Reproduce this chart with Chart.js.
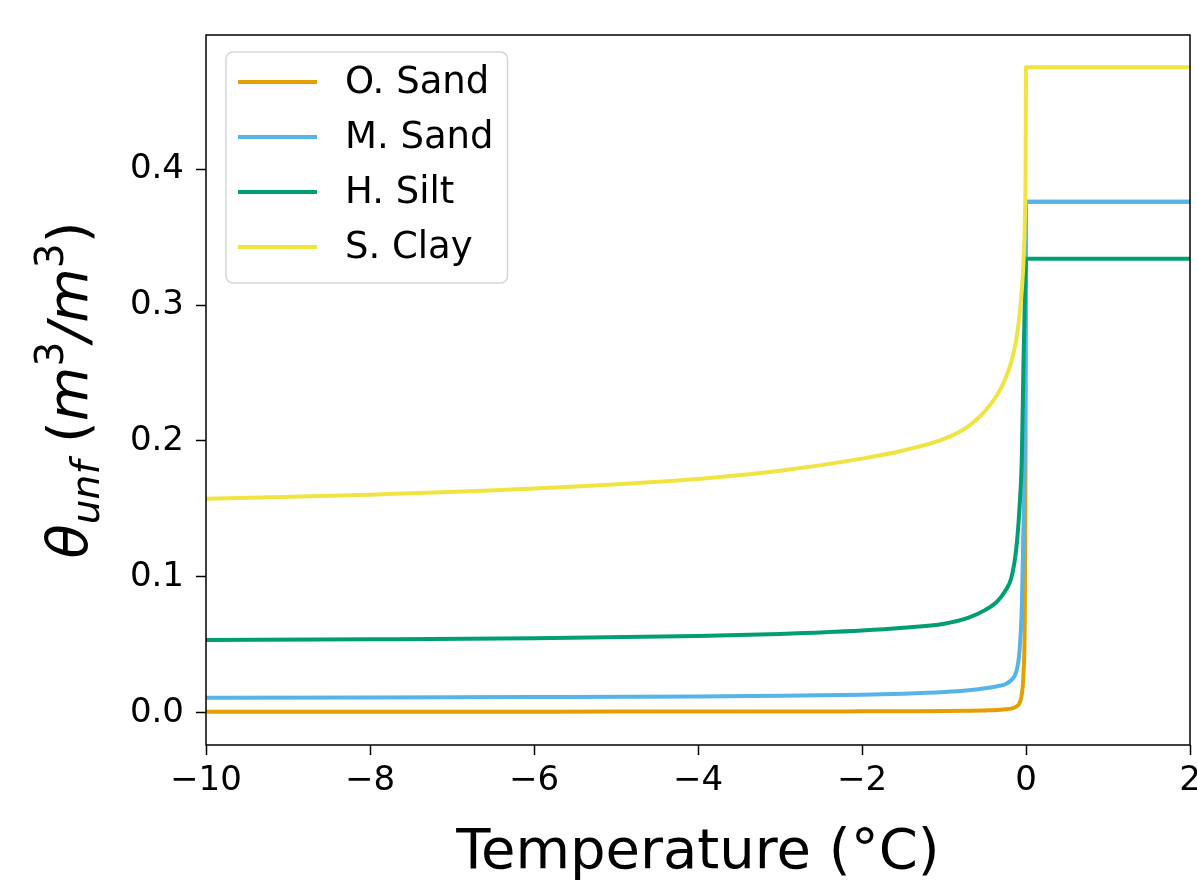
<!DOCTYPE html>
<html>
<head>
<meta charset="utf-8">
<script src="https://cdn.jsdelivr.net/npm/chart.js@4.4.1/dist/chart.umd.min.js"></script>
<style>
  body { margin: 0; background: #fff; }
</style>
</head>
<body>
<canvas id="chart" width="1197" height="892"></canvas>
<script>
// --- DATA ---
const temps = [-10, -8, -6, -4, -3, -2, -1.5, -1, -0.7, -0.5, -0.35, -0.25, -0.18, -0.12, -0.08, -0.05, -0.03, -0.015, -0.005, 0, 2];

const oSand = [0.0008, 0.0008, 0.0008, 0.0009, 0.0009, 0.001, 0.0011, 0.0012, 0.0014, 0.0017, 0.002, 0.0025, 0.003, 0.0045, 0.007, 0.014, 0.03, 0.07, 0.2, 0.376, 0.376];
const mSand = [0.011, 0.0112, 0.0115, 0.012, 0.0125, 0.0133, 0.014, 0.0152, 0.0165, 0.018, 0.0195, 0.021, 0.024, 0.03, 0.045, 0.08, 0.14, 0.19, 0.28, 0.376, 0.376];
const hSilt = [0.0535, 0.054, 0.0548, 0.0565, 0.058, 0.0605, 0.0625, 0.0655, 0.07, 0.0755, 0.082, 0.09, 0.099, 0.12, 0.15, 0.19, 0.26, 0.3, 0.325, 0.334, 0.334];
const sClay = [0.1575, 0.1605, 0.165, 0.172, 0.178, 0.187, 0.193, 0.2015, 0.211, 0.222, 0.234, 0.246, 0.258, 0.274, 0.292, 0.312, 0.333, 0.36, 0.40, 0.475, 0.475];

const seriesLabels = ['O. Sand', 'M. Sand', 'H. Silt', 'S. Clay'];
const seriesValues = [oSand, mSand, hSilt, sClay];
const seriesColors = ['#E69F00', '#56B4E9', '#009E73', '#F0E442'];

const xTickValues = [-10, -8, -6, -4, -2, 0, 2];
const yTickValues = [0, 0.1, 0.2, 0.3, 0.4];

const FONT = 'DejaVu Sans';

// --- PLUGINS ---

// cadre noir autour de la zone de tracé
const framePlugin = {
    id: 'frame',
    afterDraw(chart) {
        const { ctx, chartArea: a } = chart;
        ctx.save();
        ctx.strokeStyle = '#000';
        ctx.lineWidth = 1.5;
        ctx.strokeRect(a.left, a.top, a.right - a.left, a.bottom - a.top);
        ctx.restore();
    }
};

// légende encadrée dans le coin haut gauche
const insetLegend = {
    id: 'insetLegend',
    afterDraw(chart) {
        const { ctx, chartArea: a } = chart;
        const sets = chart.data.datasets;
        ctx.save();
        ctx.font = `37px "${FONT}"`;
        const maxW = Math.max(...sets.map(d => ctx.measureText(d.label).width));
        const x = a.left + 20, y = a.top + 17;
        const w = 119 + maxW + 14, h = 231, r = 7;
        ctx.beginPath();
        ctx.roundRect(x, y, w, h, r);
        ctx.fillStyle = 'rgba(255,255,255,0.8)';
        ctx.fill();
        ctx.strokeStyle = '#d6d6d6';
        ctx.lineWidth = 1.5;
        ctx.stroke();
        sets.forEach((d, i) => {
            const cy = y + 30 + i * 55;
            ctx.beginPath();
            ctx.moveTo(x + 12, cy);
            ctx.lineTo(x + 91, cy);
            ctx.strokeStyle = d.borderColor;
            ctx.lineWidth = 4;
            ctx.stroke();
            ctx.fillStyle = '#000';
            ctx.textBaseline = 'middle';
            ctx.textAlign = 'left';
            ctx.fillText(d.label, x + 119, cy + 1);
        });
        ctx.restore();
    }
};

// titre de l'axe Y avec indices / exposants
const yTitlePlugin = {
    id: 'yTitle',
    afterDraw(chart) {
        const { ctx } = chart;
        const size = 56;
        const parts = [
            { t: 'θ', f: `italic ${size}px "${FONT}"`, dy: 0 },
            { t: 'unf', f: `italic ${size * 0.7}px "${FONT}"`, dy: size * 0.22 },
            { t: ' (', f: `${size}px "${FONT}"`, dy: 0 },
            { t: 'm', f: `italic ${size}px "${FONT}"`, dy: 0 },
            { t: '3', f: `${size * 0.7}px "${FONT}"`, dy: -size * 0.42 },
            { t: '/', f: `italic ${size}px "${FONT}"`, dy: 0 },
            { t: 'm', f: `italic ${size}px "${FONT}"`, dy: 0 },
            { t: '3', f: `${size * 0.7}px "${FONT}"`, dy: -size * 0.42 },
            { t: ')', f: `${size}px "${FONT}"`, dy: 0 }
        ];
        ctx.save();
        let total = 0;
        parts.forEach(p => { ctx.font = p.f; p.w = ctx.measureText(p.t).width; total += p.w; });
        ctx.translate(87, 390);
        ctx.rotate(-Math.PI / 2);
        ctx.fillStyle = '#000';
        ctx.textBaseline = 'alphabetic';
        ctx.textAlign = 'left';
        let cx = -total / 2;
        parts.forEach(p => {
            ctx.font = p.f;
            ctx.fillText(p.t, cx, p.dy);
            cx += p.w;
        });
        ctx.restore();
    }
};

// --- CHART ---
const datasets = seriesLabels.map((label, i) => ({
    label: label,
    data: temps.map((t, j) => ({ x: t, y: seriesValues[i][j] })),
    borderColor: seriesColors[i],
    backgroundColor: seriesColors[i],
    borderWidth: 4,
    pointRadius: 0,
    cubicInterpolationMode: 'monotone',
    fill: false,
    order: seriesLabels.length - 1 - i
}));

const minusFmt = v => (v < 0 ? '\u2212' + Math.abs(v) : String(v));

new Chart(document.getElementById('chart'), {
    type: 'line',
    data: { datasets },
    options: {
        responsive: false,
        animation: false,
        layout: { padding: { top: 35, right: 7, left: 0, bottom: 0 } },
        plugins: {
            legend: { display: false },
            tooltip: { enabled: false }
        },
        scales: {
            x: {
                type: 'linear',
                min: -10,
                max: 2,
                afterBuildTicks: axis => { axis.ticks = xTickValues.map(v => ({ value: v })); },
                afterFit: axis => {
                    axis.height = 147;
                    axis.paddingLeft = 0;
                    axis.paddingRight = 0;
                },
                border: { display: false },
                grid: { drawOnChartArea: false, drawTicks: true, tickLength: 10, tickWidth: 1.5, color: '#000' },
                ticks: {
                    color: '#000',
                    padding: 6,
                    maxRotation: 0,
                    font: { family: FONT, size: 34 },
                    callback: v => minusFmt(v)
                },
                title: {
                    display: true,
                    text: 'Temperature (°C)',
                    color: '#000',
                    font: { family: FONT, size: 56 },
                    padding: { top: 0, bottom: 5 }
                }
            },
            y: {
                type: 'linear',
                min: -0.02375,
                max: 0.49875,
                afterBuildTicks: axis => { axis.ticks = yTickValues.map(v => ({ value: v })); },
                afterFit: axis => { axis.width = 206; },
                border: { display: false },
                grid: { drawOnChartArea: false, drawTicks: true, tickLength: 10, tickWidth: 1.5, color: '#000' },
                ticks: {
                    color: '#000',
                    padding: 12,
                    font: { family: FONT, size: 34 },
                    callback: v => v.toFixed(1)
                }
            }
        }
    },
    plugins: [framePlugin, insetLegend, yTitlePlugin]
});
</script>
</body>
</html>
